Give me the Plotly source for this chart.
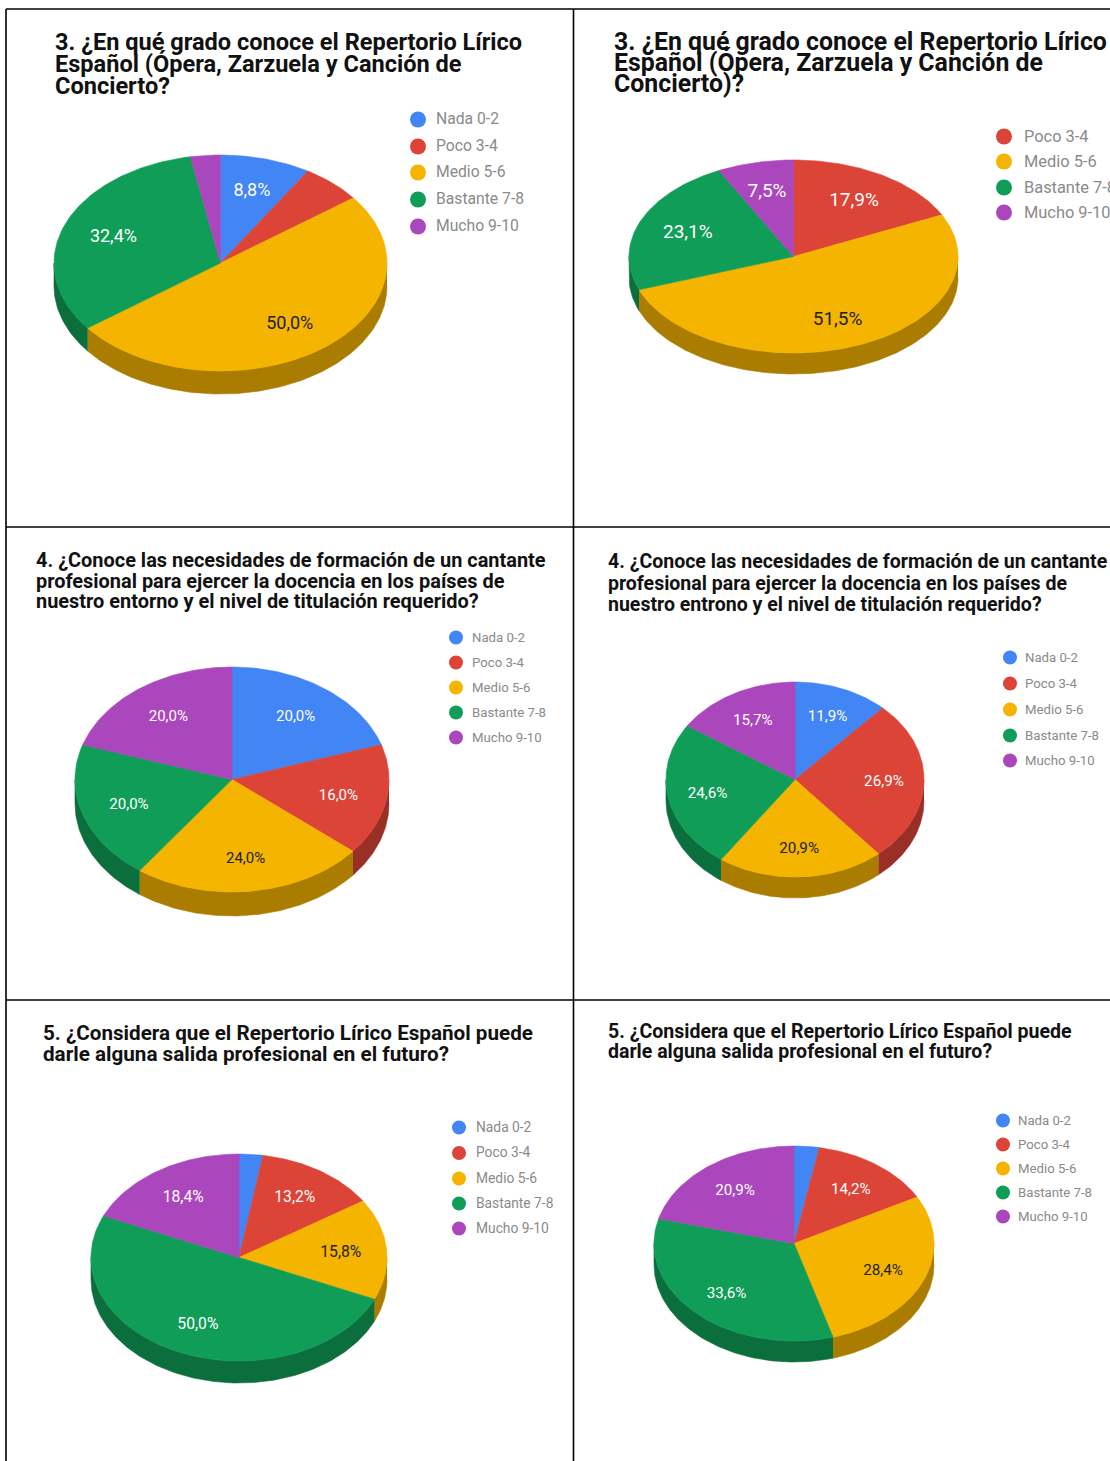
import math
import plotly.graph_objects as go

categories = ["Nada 0-2", "Poco 3-4", "Medio 5-6", "Bastante 7-8", "Mucho 9-10"]
colors = ["#4285F4", "#DB4437", "#F4B400", "#0F9D58", "#AB47BC"]
dark_colors = ["#2E5DAA", "#992F26", "#AA7D00", "#0A6E3D", "#773183"]
label_colors = ["#FFFFFF", "#FFFFFF", "#222222", "#FFFFFF", "#FFFFFF"]

values_3a = [8.8, 5.9, 50.0, 32.4, 2.9]
values_3b = [0.0, 17.9, 51.5, 23.1, 7.5]
values_4a = [20.0, 16.0, 24.0, 20.0, 20.0]
values_4b = [11.9, 26.9, 20.9, 24.6, 15.7]
values_5a = [2.6, 13.2, 15.8, 50.0, 18.4]
values_5b = [2.9, 14.2, 28.4, 33.6, 20.9]

title_3a = ["3. ¿En qué grado conoce el Repertorio Lírico", "Español (Ópera, Zarzuela y Canción de", "Concierto?"]
title_3b = ["3. ¿En qué grado conoce el Repertorio Lírico", "Español (Ópera, Zarzuela y Canción de", "Concierto)?"]
title_4a = ["4. ¿Conoce las necesidades de formación de un cantante", "profesional para ejercer la docencia en los países de", "nuestro entorno y el nivel de titulación requerido?"]
title_4b = ["4. ¿Conoce las necesidades de formación de un cantante", "profesional para ejercer la docencia en los países de", "nuestro entrono y el nivel de titulación requerido?"]
title_5a = ["5. ¿Considera que el Repertorio Lírico Español puede", "darle alguna salida profesional en el futuro?"]
title_5b = ["5. ¿Considera que el Repertorio Lírico Español puede", "darle alguna salida profesional en el futuro?"]

panels = [
    dict(v=values_3a, t=title_3a, tx=55, ty=[42, 64, 86], ts=23.55, c=(220.5, 263), r=(166.5, 108), d=23, lab=18,
         mx=418, tlx=436, my=[119.5, 146.5, 172.5, 199.5, 226.5], ls=15.7, ms=16),
    dict(v=values_3b, t=title_3b, tx=614, ty=[41, 62, 83], ts=24.85, c=(793.5, 256.5), r=(164.5, 96.5), d=21, lab=19,
         mx=1004, tlx=1024, my=[None, 136.5, 161.5, 187.5, 212.5], ls=16.4, ms=16),
    dict(v=values_4a, t=title_4a, tx=36, ty=[560, 581, 601], ts=19.93, c=(232, 779.5), r=(157, 112.5), d=24, lab=15,
         mx=456, tlx=472, my=[637.5, 662.5, 687.5, 712.5, 737.5], ls=13.2, ms=14),
    dict(v=values_4b, t=title_4b, tx=608, ty=[561, 583, 604], ts=19.53, c=(795, 779.5), r=(129, 97.5), d=21, lab=15.2,
         mx=1010, tlx=1025, my=[657.5, 683.5, 709.5, 735.5, 760.5], ls=13.2, ms=14),
    dict(v=values_5a, t=title_5a, tx=43, ty=[1033, 1054], ts=20.65, c=(239, 1257.5), r=(148, 103.5), d=22, lab=15.7,
         mx=459, tlx=476, my=[1127.5, 1153, 1178.5, 1203.5, 1228.5], ls=13.8, ms=14),
    dict(v=values_5b, t=title_5b, tx=608, ty=[1031, 1051], ts=19.55, c=(794, 1243.5), r=(140, 97.5), d=21, lab=15.2,
         mx=1003, tlx=1018, my=[1120.5, 1144.5, 1168.5, 1192.5, 1216.5], ls=13.2, ms=14),
]

fig = go.Figure()


def arc(p, a0, a1, shift=0.0):
    n = max(2, int(abs(a1 - a0) / 1.0) + 2)
    cx, cy = p["c"]
    rx, ry = p["r"]
    pts = [a0 + (a1 - a0) * i / (n - 1) for i in range(n)]
    xs = [cx + rx * math.sin(math.radians(a)) for a in pts]
    ys = [cy - ry * math.cos(math.radians(a)) + shift for a in pts]
    return xs, ys


def poly(xs, ys, color):
    fig.add_trace(go.Scatter(x=xs, y=ys, mode="lines", fill="toself", fillcolor=color,
                             line=dict(color=color, width=0.6), hoverinfo="skip", showlegend=False))


for p in panels:
    total = sum(p["v"])
    spans = []
    a = 0.0
    for val in p["v"]:
        b = a + 360.0 * val / total
        spans.append((a, b))
        a = b
    # side walls: only the front half of the rim is visible
    for i, (a0, b0) in enumerate(spans):
        lo, hi = max(a0, 90.0), min(b0, 270.0)
        if hi > lo:
            x1, y1 = arc(p, lo, hi)
            x2, y2 = arc(p, hi, lo, p["d"])
            poly(x1 + x2, y1 + y2, dark_colors[i])
    # top faces
    cx, cy = p["c"]
    lx, ly, lt, lc = [], [], [], []
    for i, (a0, b0) in enumerate(spans):
        if b0 <= a0:
            continue
        x1, y1 = arc(p, a0, b0)
        poly([cx] + x1 + [cx], [cy] + y1 + [cy], colors[i])
        if p["v"][i] >= 6.0:
            mid = math.radians((a0 + b0) / 2)
            lx.append(cx + 0.69 * p["r"][0] * math.sin(mid))
            ly.append(cy - 0.7 * p["r"][1] * math.cos(mid) + 1.5)
            lt.append(f"{p['v'][i]:.1f}%".replace(".", ","))
            lc.append(label_colors[i])
    fig.add_trace(go.Scatter(x=lx, y=ly, mode="text", text=lt, textposition="middle center",
                             textfont=dict(family="Roboto", size=p["lab"], color=lc),
                             hoverinfo="skip", showlegend=False))
    # legend
    idx = [i for i, y in enumerate(p["my"]) if y is not None]
    fig.add_trace(go.Scatter(x=[p["mx"]] * len(idx), y=[p["my"][i] for i in idx], mode="markers",
                             marker=dict(size=p["ms"], color=[colors[i] for i in idx]),
                             hoverinfo="skip", showlegend=False))
    fig.add_trace(go.Scatter(x=[p["tlx"]] * len(idx), y=[p["my"][i] + 1 for i in idx], mode="text",
                             text=[categories[i] for i in idx], textposition="middle right",
                             textfont=dict(family="Roboto", size=p["ls"], color="#8A8A8A"),
                             hoverinfo="skip", showlegend=False, cliponaxis=False))
    # title (one annotation per line: the lines sit closer than the default leading)
    for line, y in zip(p["t"], p["ty"]):
        fig.add_annotation(x=p["tx"], y=y, xref="x", yref="y", text=line, showarrow=False,
                           xanchor="left", yanchor="middle", xshift=-2,
                           font=dict(family="Roboto", size=p["ts"], color="#111111", weight=700))

grid = [
    (6, 9, 1110, 9), (6, 527, 1110, 527), (6, 1000, 1110, 1000),
    (6, 9, 6, 1461), (573.5, 9, 573.5, 1461),
]
for x0, y0, x1, y1 in grid:
    fig.add_shape(type="line", x0=x0, y0=y0, x1=x1, y1=y1, xref="x", yref="y",
                  line=dict(color="#000000", width=1.6), layer="above")

fig.update_layout(
    width=1110, height=1461, margin=dict(l=0, r=0, t=0, b=0),
    paper_bgcolor="#FFFFFF", plot_bgcolor="#FFFFFF", showlegend=False,
    xaxis=dict(range=[0, 1110], visible=False, fixedrange=True),
    yaxis=dict(range=[1461, 0], visible=False, fixedrange=True),
)
fig.write_html("out.html", config={"displayModeBar": False},
               post_script="document.documentElement.style.overflow='hidden';document.body.style.margin='0';")
